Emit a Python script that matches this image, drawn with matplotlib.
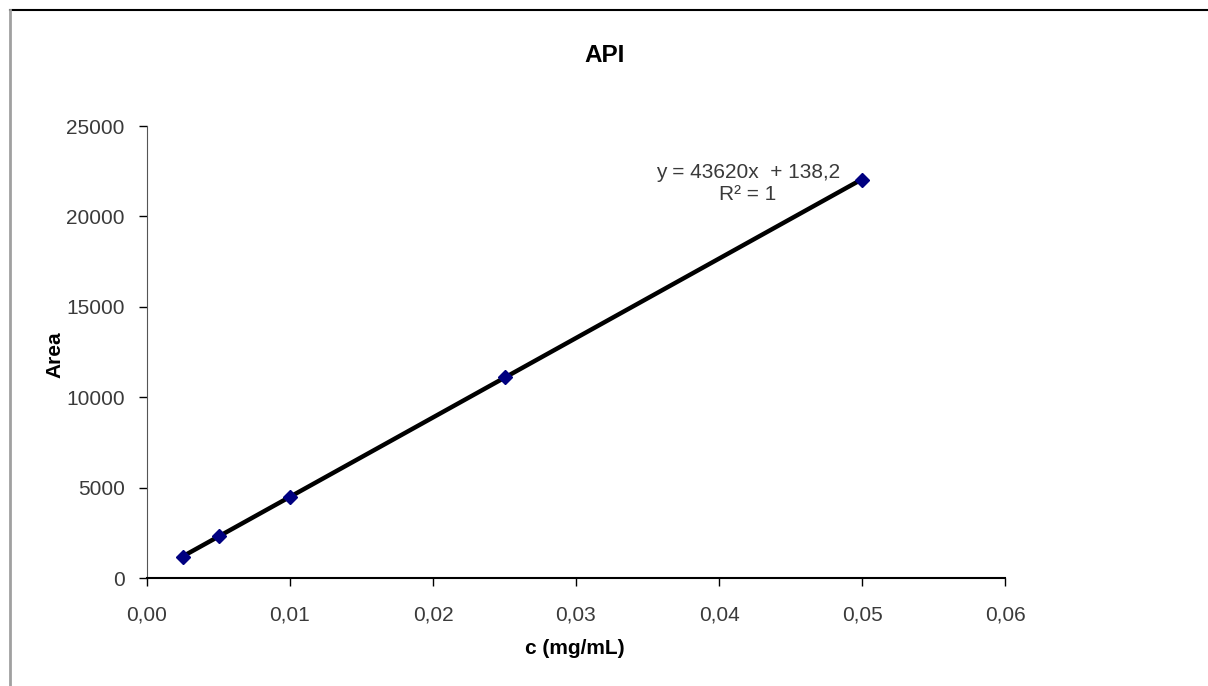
"""
Calibration curve for API (area vs concentration).
"""

import numpy as np
import matplotlib
matplotlib.use('Agg')
import matplotlib.pyplot as plt
from matplotlib.lines import Line2D
from matplotlib.ticker import FuncFormatter

plt.rcParams['font.family'] = ['Liberation Sans', 'DejaVu Sans']

###

conc = [0.0025, 0.005, 0.01, 0.025, 0.05]
area = [1150, 2320, 4480, 11130, 22030]
x_ticks = [0.00, 0.01, 0.02, 0.03, 0.04, 0.05, 0.06]
y_ticks = [0, 5000, 10000, 15000, 20000, 25000]
eq_text = 'y = 43620x  + 138,2\nR² = 1'

fig = plt.figure(figsize=(12.08, 6.86), dpi=100)
ax = fig.add_axes([147 / 1208, 1 - 578 / 686, (1005 - 147) / 1208, (578 - 126) / 686])

# trend line through the data range
k, b = np.polyfit(conc, area, 1)
xs = np.array([min(conc), max(conc)])
ax.plot(xs, k * xs + b, color='black', lw=3.2, zorder=2)
ax.plot(conc, area, linestyle='none', marker='D', ms=7.5, color='#000080', zorder=3)

ax.set_xlim(0, 0.06)
ax.set_ylim(0, 25000)
ax.set_xticks(x_ticks)
ax.set_yticks(y_ticks)
ax.xaxis.set_major_formatter(FuncFormatter(lambda v, p: ('%.2f' % v).replace('.', ',')))
ax.tick_params(direction='out', length=6, width=1, labelsize=15, labelcolor='#3a3a3a')
ax.tick_params(axis='x', pad=14)
ax.tick_params(axis='y', pad=10)
for s in ['top', 'right']:
    ax.spines[s].set_visible(False)
ax.spines['left'].set_color('#555555')
ax.spines['bottom'].set_linewidth(1.5)

fig.text(605 / 1208, 1 - 55 / 686, 'API', ha='center', va='center', fontsize=17.5, fontweight='bold')
fig.text(575 / 1208, 1 - 648 / 686, 'c (mg/mL)', ha='center', va='center', fontsize=15, fontweight='bold')
fig.text(55 / 1208, 1 - 355 / 686, 'Area', ha='center', va='center', rotation=90, fontsize=15, fontweight='bold')
fig.text(748 / 1208, 1 - 183 / 686, eq_text, ha='center', va='center', fontsize=15,
         color='#3a3a3a', linespacing=1.2)

# chart frame edges
fig.add_artist(Line2D([10 / 1208, 1], [1 - 10 / 686, 1 - 10 / 686], color='black', lw=1.5,
                      transform=fig.transFigure))
fig.add_artist(Line2D([10 / 1208, 10 / 1208], [0, 1 - 10 / 686], color='#a0a0a0', lw=2,
                      transform=fig.transFigure))

fig.savefig('out.png', dpi=100)
